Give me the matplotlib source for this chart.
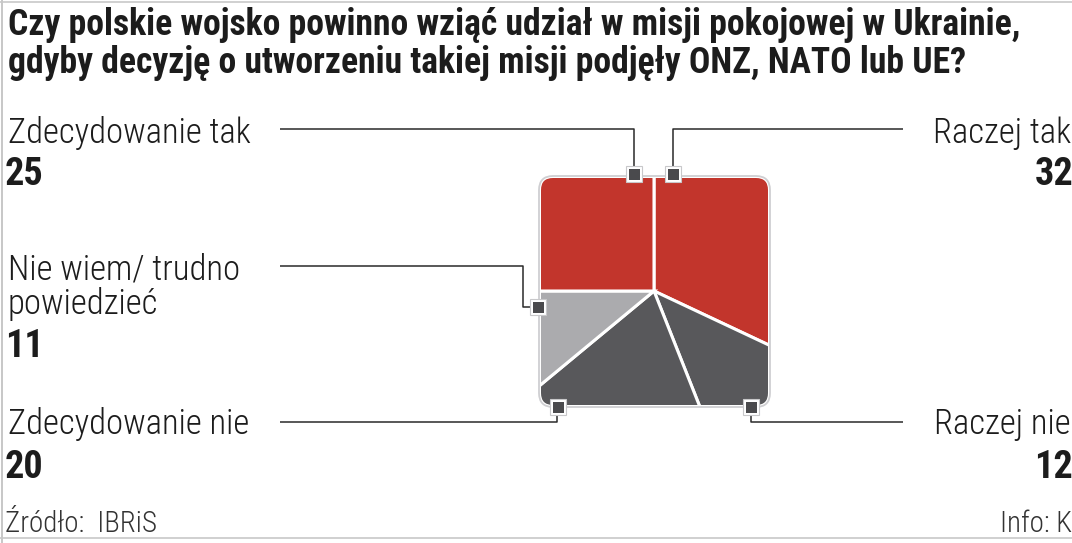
import matplotlib
matplotlib.use("Agg")
import matplotlib.pyplot as plt
from matplotlib import font_manager as fm
from matplotlib.patches import FancyBboxPatch, Rectangle

# ---- data ----
title_lines = ["Czy polskie wojsko powinno wziąć udział w misji pokojowej w Ukrainie,",
               "gdyby decyzję o utworzeniu takiej misji podjęły ONZ, NATO lub UE?"]
categories = ["Raczej tak", "Raczej nie", "Zdecydowanie nie", "Nie wiem/ trudno\npowiedzieć", "Zdecydowanie tak"]
values = [32, 12, 20, 11, 25]
colors = ["#C2352C", "#58585B", "#58585B", "#ABABAE", "#C2352C"]
source_text = "Źródło:  IBRiS"
info_text = "Info: K"

W, H = 1072, 543
fig = plt.figure(figsize=(W / 100, H / 100), dpi=100)
ax = fig.add_axes([0, 0, 1, 1])

available = {f.name for f in fm.fontManager.ttflist}
pref = ["Roboto Condensed", "Fira Sans Condensed", "Barlow Semi Condensed",
        "Asap Condensed", "Archivo Narrow", "Liberation Sans Narrow"]
main = next((p for p in pref if p in available), "DejaVu Sans")
FAM = [main, "DejaVu Sans"]
light_ok = any(f.name == main and f.weight in (300, "light") for f in fm.fontManager.ttflist)
LWT = "light" if light_ok else "normal"
TXT = "#1c1c1c"

def Y(y):
    return H - y

# pie clipped to rounded square
cx, cy = 654, 291
x0, x1, y0, y1 = 541, 768, 178, 405
outline = FancyBboxPatch((x0 - 2, Y(y1) - 2), x1 - x0 + 4, y1 - y0 + 4,
                         boxstyle="round,pad=0,rounding_size=14",
                         facecolor="white", edgecolor="#CFCFD2", linewidth=1.3, zorder=1)
ax.add_patch(outline)

wedges, _ = ax.pie(values, colors=colors, startangle=90, counterclock=False,
                   center=(cx, Y(cy)), radius=200,
                   wedgeprops=dict(edgecolor="white", linewidth=2.2))
ax.set_xlim(0, W)
ax.set_ylim(0, H)
ax.set_aspect("auto")
ax.axis("off")

clip = FancyBboxPatch((x0, Y(y1)), x1 - x0, y1 - y0,
                      boxstyle="round,pad=0,rounding_size=12",
                      facecolor="none", edgecolor="none", transform=ax.transData)
for w in wedges:
    w.set_zorder(2)
    w.set_clip_on(True)
    w.set_clip_path(clip)

# leader lines
LC = "#2a2a2a"
LW = 1.1
def line(xs, ys):
    ax.plot(xs, [Y(v) for v in ys], color=LC, lw=LW, zorder=3, solid_capstyle="butt")

line([280, 634, 634], [129, 129, 174])
line([673, 673, 903], [174, 129, 129])
line([280, 523, 523, 538], [266, 266, 307, 307])
line([280, 557, 557], [422, 422, 407])
line([751, 751, 903], [407, 422, 422])

# markers
for mx, my in [(634, 174), (673, 174), (538, 307), (558, 407), (751, 407)]:
    ax.add_patch(Rectangle((mx - 8, Y(my) - 8), 16, 16, facecolor="white",
                           edgecolor="#C8C8CA", linewidth=0.8, zorder=4))
    ax.add_patch(Rectangle((mx - 5.5, Y(my) - 5.5), 11, 11, facecolor="#4A4A4D",
                           edgecolor="none", zorder=5))

renderer = fig.canvas.get_renderer()
def fit_size(s, target_w, **kw):
    t = ax.text(0, 0, s, fontsize=20, family=FAM, **kw)
    w = t.get_window_extent(renderer).width
    t.remove()
    return 20 * target_w / w

TFS = fit_size(title_lines[0], 1012, fontweight="bold")
LFS = fit_size("Zdecydowanie tak", 242, fontweight=LWT)
NFS = 27.5
SFS = fit_size(source_text, 152, fontweight=LWT)

# title
ax.text(8, Y(35), title_lines[0], fontsize=TFS, fontweight="bold", family=FAM,
        color=TXT, ha="left", va="baseline")
ax.text(8, Y(73), title_lines[1], fontsize=TFS, fontweight="bold", family=FAM,
        color=TXT, ha="left", va="baseline")

def lab(x, y, s, ha="left"):
    ax.text(x, Y(y), s, fontsize=LFS, fontweight=LWT, family=FAM, color=TXT, ha=ha, va="baseline")
def num(x, y, s, ha="left"):
    ax.text(x, Y(y), s, fontsize=NFS, fontweight="bold", family=FAM, color=TXT, ha=ha, va="baseline")

lab(8, 143, categories[4]); num(5, 185, str(values[4]))
nl1, nl2 = categories[3].split("\n")
lab(8, 279, nl1); lab(8, 314, nl2); num(5, 357, str(values[3]))
lab(8, 434, categories[2]); num(5, 478, str(values[2]))
lab(1071, 143, categories[0], "right"); num(1073, 185, str(values[0]), "right")
lab(1071, 434, categories[1], "right"); num(1073, 478, str(values[1]), "right")

# footer
ax.text(5, Y(532), source_text, fontsize=SFS, fontweight=LWT, family=FAM, color="#333333", va="baseline")
ax.text(1072, Y(532), info_text, fontsize=SFS, fontweight=LWT, family=FAM, color="#333333", ha="right", va="baseline")

# frame lines
ax.plot([1.5, 1.5], [0, H], color="#BDBDBD", lw=1.2)
ax.plot([0, W], [Y(538), Y(538)], color="#C8C8C8", lw=1.2)
ax.plot([0, W], [Y(1.5), Y(1.5)], color="#C8C8C8", lw=1.2)

fig.savefig("out.png", dpi=100)
